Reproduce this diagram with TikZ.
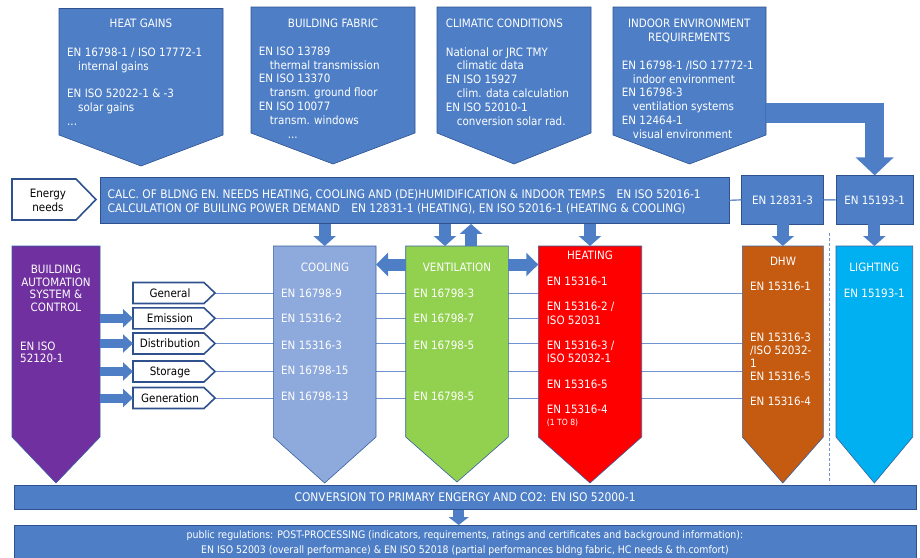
\documentclass[tikz,border=0pt]{standalone}
\usepackage{fontspec}
\setmainfont{DejaVu Sans Condensed}
\usetikzlibrary{arrows.meta,calc,backgrounds}
\definecolor{BoxClr}{RGB}{78,127,198}
\definecolor{EdgeClr}{RGB}{47,82,143}
\definecolor{LineClr}{RGB}{112,146,208}
\definecolor{CoolClr}{RGB}{142,169,219}
\definecolor{VentClr}{RGB}{146,208,80}
\definecolor{HeatClr}{RGB}{255,0,0}
\definecolor{DhwClr}{RGB}{197,90,17}
\definecolor{LightClr}{RGB}{0,176,240}
\definecolor{BacsClr}{RGB}{112,48,160}

% down pointing box: name, style, x left, x right, y top, y side, y tip
\newcommand{\PentDn}[7]{%
  \filldraw[#2] (#3,#5) -- (#4,#5) -- (#4,#6) -- ({(#3+#4)/2},#7) -- (#3,#6) -- cycle;
  \coordinate (#1) at ({(#3+#4)/2},#5);
  \coordinate (#1-l) at (#3,#5);
  \coordinate (#1-r) at (#4,#5);}

\begin{document}
\begin{tikzpicture}[x=1pt,y=-1pt,
  every node/.style={font=\fontsize{11.5}{13.8}\selectfont,text=white,inner sep=0pt},
  blk/.style={fill=BoxClr,draw=EdgeClr,line width=0.6pt},
  col/.style={draw=EdgeClr!70!BoxClr,line width=0.6pt},
  stepbox/.style={fill=white,draw=EdgeClr,line width=1.6pt},
  barrow/.style={draw=BoxClr,line width=12pt,-{Triangle[length=10pt,width=22pt]}},
  sarrow/.style={draw=BoxClr,line width=9pt,-{Triangle[length=10pt,width=18pt]}},
  link/.style={draw=LineClr,line width=0.8pt}]
\useasboundingbox (0,0) rectangle (920,557);

% input boxes
\PentDn{hg}{blk}{59}{223}{8.5}{135}{166}
\PentDn{bf}{blk}{251}{415}{7}{133}{164}
\PentDn{cc}{blk}{437}{591}{7}{133}{164}
\PentDn{ie}{blk}{613}{766}{7}{135}{164}

\node[anchor=base] (hgT) at (141,27.5) {HEAT GAINS};
\node[anchor=north west,align=left] (hgB) at (67,46.5)
  {\strut EN 16798-1 / ISO 17772-1\\\hspace*{11pt}internal gains\\[13.8pt]
   EN ISO 52022-1 \& -3\\\hspace*{11pt}solar gains\\...};
\node[anchor=base] (bfT) at (333,27.2) {BUILDING FABRIC};
\node[anchor=north west,align=left] (bfB) at (258.7,45.5)
  {\strut EN ISO 13789\\\hspace*{11pt}thermal transmission\\EN ISO 13370\\
   \hspace*{11pt}transm. ground floor\\EN ISO 10077\\\hspace*{11pt}transm. windows\\
   \hspace*{29pt}...};
\node[anchor=base west] (ccT) at (445.7,27.2) {CLIMATIC CONDITIONS};
\node[anchor=north west,align=left] (ccB) at (445.7,46.2)
  {\strut National or JRC TMY\\\hspace*{11pt}climatic data\\EN ISO 15927\\
   \hspace*{11pt}clim. data calculation\\EN ISO 52010-1\\\hspace*{11pt}conversion solar rad.};
\node[anchor=north,align=center] (ieT) at (689.3,17.5) {\strut INDOOR ENVIRONMENT\\REQUIREMENTS};
\node[anchor=north west,align=left] (ieB) at (621.7,59.5)
  {\strut EN 16798-1 /ISO 17772-1\\\hspace*{11pt}indoor environment\\EN 16798-3\\
   \hspace*{11pt}ventilation systems\\EN 12464-1\\\hspace*{11pt}visual environment};

% calculation band
\filldraw[stepbox] (12,179) -- (76,179) -- (96,199.5) -- (76,220) -- (12,220) -- cycle;
\node[text=black,align=center] (en) at (48,200.5) {Energy\\needs};
\node[blk,minimum width=629pt,minimum height=46.6pt,anchor=north west] (calc) at (100,176.7) {};
\node[anchor=north west,align=left,font=\fontsize{11.8}{13.8}\selectfont] (calcT) at (107.5,188.5)
  {\strut CALC. OF BLDNG EN. NEEDS HEATING, COOLING AND (DE)HUMIDIFICATION \& INDOOR TEMP.S\hspace{8pt} EN ISO 52016-1\\
   CALCULATION OF BUILING POWER DEMAND\hspace{8pt} EN 12831-1 (HEATING), EN ISO 52016-1 (HEATING \& COOLING)};
\node[blk,minimum width=81.6pt,minimum height=48.3pt] (dhwbox) at (782.5,199.85) {EN 12831-3};
\node[blk,minimum width=77.3pt,minimum height=48.3pt] (litbox) at (874.65,199.85) {EN 15193-1};
\draw[link,line width=1.4pt] (calc.east) -- (dhwbox.west) (dhwbox.east) -- (litbox.west);

\coordinate (ieR) at (766,113);
\draw[draw=BoxClr,line width=19.5pt,-{Triangle[length=18pt,width=37pt]}] (ieR) -| (litbox.north);

% columns
\PentDn{bacs}{col,fill=BacsClr}{12}{100}{246}{437}{483}
\PentDn{cool}{col,fill=CoolClr}{273.3}{376}{246}{437}{483}
\PentDn{vent}{col,fill=VentClr}{405.7}{508.3}{246}{437}{482}
\PentDn{heat}{col,fill=HeatClr}{538.3}{641.7}{246}{437}{483}
\PentDn{dhw}{col,fill=DhwClr}{742.3}{823.3}{246}{437}{483}
\PentDn{lit}{col,fill=LightClr}{836}{912.7}{246}{437}{483}
\draw[LineClr,line width=0.8pt,dash pattern=on 3pt off 2pt] (829.3,233) -- (829.3,483);

\node[align=center,anchor=north,font=\fontsize{11.5}{12.7}\selectfont] (bacsT) at (56,264.3)
  {\strut BUILDING\\AUTOMATION\\SYSTEM \&\\CONTROL};
\node[align=left,anchor=north west,font=\fontsize{11.5}{12.3}\selectfont] (bacsS) at (20,341.6)
  {\strut EN ISO\\52120-1};

\node[anchor=base] (coolT) at (325,271.9) {COOLING};
\foreach \y/\t [count=\i] in {293.3/EN 16798-9,318.7/EN 15316-2,345/EN 15316-3,370.3/EN 16798-15,396/EN 16798-13}
  \node[anchor=base west] (cool\i) at (281,\y+4.2) {\t};
\node[anchor=base] (ventT) at (457,271.9) {VENTILATION};
\foreach \y/\t [count=\i] in {293.3/EN 16798-3,318.7/EN 16798-7,345/EN 16798-5,396/EN 16798-5}
  \node[anchor=base west] (vent\i) at (413.3,\y+4.2) {\t};
\node[anchor=base] (heatT) at (590,259.9) {HEATING};
\foreach \y/\t [count=\i] in {281.7/EN 15316-1,306.7/{EN 15316-2 /},320/ISO 52031,345.7/{EN 15316-3 /},358.3/ISO 52032-1,384/EN 15316-5,409/EN 15316-4}
  \node[anchor=base west] (heat\i) at (546.7,\y+4.2) {\t};
\node[anchor=base west,font=\fontsize{8.5}{9}\selectfont] (heat8) at (546.7,425.6) {(1 TO 8)};
\node[anchor=base] (dhwT) at (783,265.9) {DHW};
\foreach \y/\t [count=\i] in {286.7/EN 15316-1,337.7/EN 15316-3,350.7/{/ISO 52032-},363.3/1,376.7/EN 15316-5,401.7/EN 15316-4}
  \node[anchor=base west] (dhw\i) at (750,\y+4.2) {\t};
\node[anchor=base] (litT) at (874.3,271.9) {LIGHTING};
\node[anchor=base] (lit1) at (874.3,297.5) {EN 15193-1};

% sub systems
\foreach \y/\t [count=\i] in {293/General,318.3/Emission,343.5/Distribution,371.5/Storage,398/Generation}{
  \filldraw[stepbox] (133,\y-10.5) -- (204,\y-10.5) -- (215,\y) -- (204,\y+10.5) -- (133,\y+10.5) -- cycle;
  \node[text=black,anchor=base] (step\i) at (170,\y+4.2) {\t};
  \coordinate (box\i) at (133,\y);
  \coordinate (tip\i) at (215,\y);
}
\foreach \i in {2,...,5}
  \draw[sarrow] (box\i -| bacs-r) -- (box\i);

% block arrows
\coordinate (ventA) at ($(vent)+(-12,0)$);
\coordinate (ventB) at ($(vent)+(14,0)$);
\coordinate (ventM) at ($(vent-l)+(0,18.5)$);
\draw[barrow] (calc.south -| cool) -- (cool);
\draw[barrow] (calc.south -| ventA) -- (ventA);
\draw[barrow] (ventB) -- (calc.south -| ventB);
\draw[barrow] (calc.south -| heat) -- (heat);
\draw[barrow] (dhwbox.south -| dhw) -- (dhw);
\draw[barrow] (litbox.south -| lit) -- (lit);
\draw[barrow,-{Triangle[length=12pt,width=23pt]}] (ventM) -- (ventM -| cool-r);
\draw[barrow,-{Triangle[length=12pt,width=23pt]}] (ventM -| vent-r) -- (ventM -| heat-l);

% output
\node[blk,minimum width=901.7pt,minimum height=24.3pt,anchor=north west,font=\fontsize{11.9}{13.8}\selectfont] (conv) at (14,485)
  {CONVERSION TO PRIMARY ENGERGY AND CO2: EN ISO 52000-1};
\node[blk,minimum width=901.7pt,minimum height=40pt,anchor=north west] (post) at (14,525) {};
\node[anchor=north,align=center,font=\fontsize{10.4}{15}\selectfont] (postT) at (465,527.8)
  {\strut public regulations: POST-PROCESSING (indicators, requirements, ratings and certificates and background information):\\
   EN ISO 52003 (overall performance) \& EN ISO 52018 (partial performances bldng fabric, HC needs \& th.comfort)};
\draw[barrow,line width=11pt,-{Triangle[length=8pt,width=20pt]}] ($(conv.south)+(-6.5,0)$) -- ($(post.north)+(-6.5,0)$);

\begin{scope}[on background layer]
\draw[link] (tip1) -- (tip1 -| dhw-l);
\draw[link] (tip2) -- (tip2 -| heat-l);
\draw[link] (tip3) -- (tip3 -| dhw-l);
\draw[link] (tip4) -- (tip4 -| dhw-l);
\draw[link] (tip5) -- (tip5 -| dhw-l);
\end{scope}

\end{tikzpicture}
\end{document}
